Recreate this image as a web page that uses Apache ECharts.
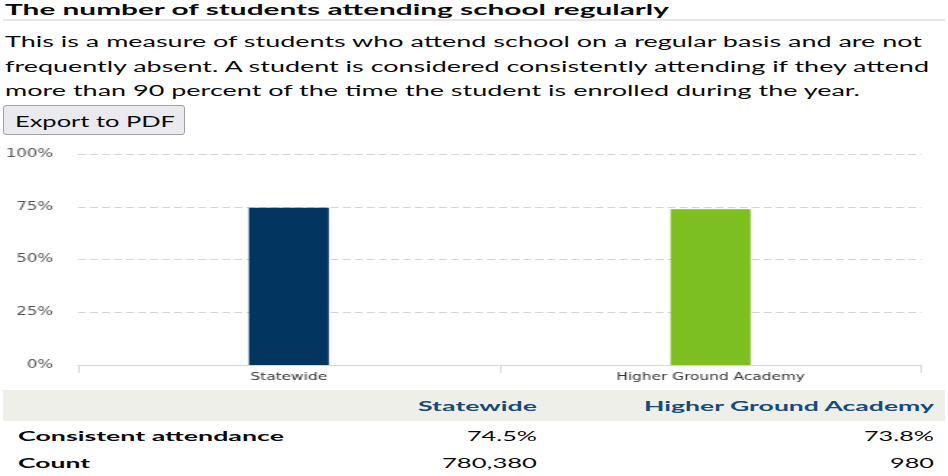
<!DOCTYPE html>
<html><head><meta charset="utf-8">
<script src="https://cdn.jsdelivr.net/npm/echarts@6/dist/echarts.min.js"></script>
<style>
html,body{margin:0;padding:0;background:#fff;width:948px;height:476px;overflow:hidden;position:relative;font-family:Lato,'Open Sans',sans-serif;color:#0a0a0a;}
.t{position:absolute;white-space:nowrap;transform-origin:0 0;line-height:1;display:inline-block;}
.b{font-weight:bold;}
#sep{position:absolute;left:3px;top:19px;width:942px;height:2px;background:#e6e6e6;}
#btn{position:absolute;left:3px;top:105px;width:180px;height:28px;border:1px solid #a0a0a8;border-radius:3px;background:#e9e9ee;}
#thead{position:absolute;left:3px;top:390px;width:942px;height:31px;background:#efefea;}
.hd{color:#174a7c;font-weight:bold;}
</style></head><body>
<div id="sep"></div>
<div id="btn"></div>
<div id="thead"></div>
<div id="chartWrap" style="position:absolute;left:0;top:140px;width:948px;height:250px;overflow:hidden">
  <div id="chart" style="width:654px;height:250px;transform:scaleX(1.4495);transform-origin:0 0"></div>
</div>
<div id="texts"></div>
<script>
// ---- data ----
var categories = ['Statewide', 'Higher Ground Academy'];
var attendance = [74.5, 73.8];
var counts = [780380, 980];
var yTicks = [0, 25, 50, 75, 100];
var titleText = 'The number of students attending school regularly';
var descLines = [
  'This is a measure of students who attend school on a regular basis and are not',
  'frequently absent. A student is considered consistently attending if they attend',
  'more than 90 percent of the time the student is enrolled during the year.'
];
var rowLabels = ['Consistent attendance', 'Count'];

// ---- html text ----
var texts = document.getElementById('texts');
function addText(str, x, w, top, size, cls) {
  var s = document.createElement('span');
  s.className = 't ' + (cls || '');
  s.textContent = str;
  s.style.left = x + 'px';
  s.style.top = top + 'px';
  s.style.fontSize = size + 'px';
  s.dataset.w = w;
  texts.appendChild(s);
  return s;
}
function fmtCount(n){ return n.toLocaleString('en-US'); }
addText(titleText, 5, 664, 2.4, 15, 'b');
var paraTops = [34.3, 59.2, 83.3];
var paraW = [917, 924, 855];
descLines.forEach(function(l, i){ addText(l, 5, paraW[i], paraTops[i], 15.5); });
addText('Export to PDF', 15, 160, 112.8, 16);
// table
var colRight = [537, 934];
var hdrW = [119, 290];
categories.forEach(function(c, i){ addText(c, colRight[i] - hdrW[i], hdrW[i], 399.3, 14, 'hd'); });
addText(rowLabels[0], 18, 266, 429.3, 14, 'b');
addText(rowLabels[1], 18, 72, 456, 14, 'b');
var pctW = [70, 70];
attendance.forEach(function(v, i){ addText(v.toFixed(1) + '%', colRight[i] - pctW[i], pctW[i], 429.3, 14); });
var cntW = [95, 44];
counts.forEach(function(v, i){ addText(fmtCount(v), colRight[i] - cntW[i], cntW[i], 456, 14); });

function fitAll(){
  var els = texts.querySelectorAll('.t');
  els.forEach(function(e){
    e.style.transform = 'none';
    var w = e.getBoundingClientRect().width;
    if (w > 0) e.style.transform = 'scaleX(' + (parseFloat(e.dataset.w) / w) + ')';
  });
}
fitAll();
if (document.fonts && document.fonts.ready) document.fonts.ready.then(fitAll);

// ---- chart ----
var chart = echarts.init(document.getElementById('chart'), null, {renderer: 'canvas'});
chart.setOption({
  animation: false,
  grid: {left: 53.8, right: 18.3, top: 14, bottom: 25},
  xAxis: {
    type: 'category',
    data: categories,
    axisLine: {lineStyle: {color: '#ccd6eb', width: 1}},
    axisTick: {show: true, alignWithLabel: false, length: 8, lineStyle: {color: '#ccd6eb'}},
    axisLabel: {color: '#333', fontFamily: 'DejaVu Sans', fontSize: 10.6, margin: 7}
  },
  yAxis: {
    type: 'value',
    min: yTicks[0], max: yTicks[yTicks.length - 1], interval: yTicks[1] - yTicks[0],
    axisLine: {show: false}, axisTick: {show: false},
    axisLabel: {color: '#555', fontFamily: 'DejaVu Sans', fontSize: 11.5, margin: 17, formatter: '{value}%'},
    splitLine: {lineStyle: {color: '#d4d4d4', type: [5.5, 2.8], width: 1}}
  },
  series: [{
    type: 'bar',
    barWidth: 55.2,
    data: attendance.map(function(v, i){
      return {value: v, itemStyle: {color: i === 0 ? '#023660' : '#7bbf21'}};
    })
  }]
});
</script>
</body></html>
